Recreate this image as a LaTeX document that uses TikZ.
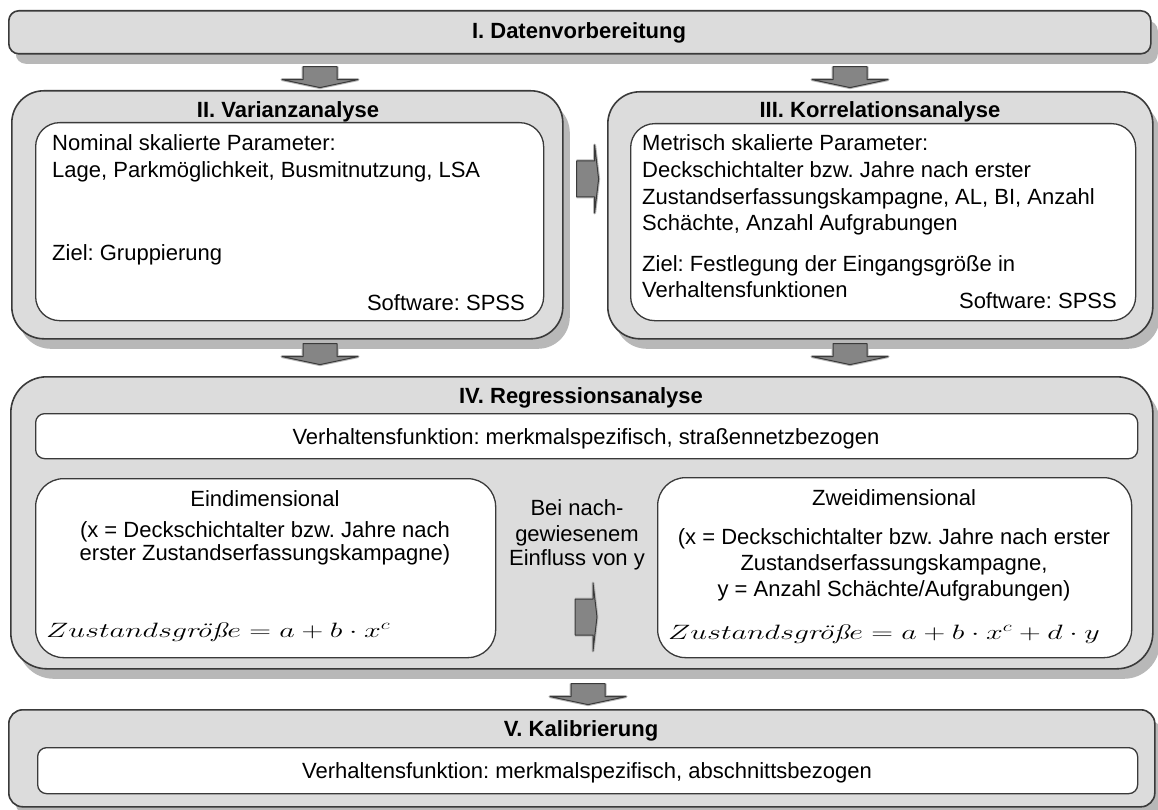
\documentclass[tikz,border=0pt]{standalone}
\usepackage{fontspec}
\usepackage{graphicx}
\usetikzlibrary{shadows}
\newfontfamily\arial{Liberation Sans}
\definecolor{boxgray}{HTML}{DCDCDC}
\definecolor{edge}{HTML}{3A3A3A}
\definecolor{shade}{HTML}{B8B8B8}
\definecolor{arrgray}{HTML}{858585}
\frenchspacing
\newcommand{\grsz}{\mkern-3mu\mbox{\rmfamily\itshape öß}}
\begin{document}
\begin{tikzpicture}[x=1pt,y=-1pt,
 outer/.style={draw=edge, line width=1.6pt, fill=boxgray, anchor=north west, inner sep=0pt,
   drop shadow={shadow xshift=7pt, shadow yshift=-10pt, fill=shade, opacity=1}},
 inner/.style={draw=edge, line width=1.3pt, fill=white, anchor=north west, inner sep=0pt},
 txt/.style={font=\arial\fontsize{22}{26}\selectfont, inner sep=0pt},
 ttl/.style={font=\arial\bfseries\fontsize{22}{26}\selectfont, inner sep=0pt},
 frm/.style={font=\fontsize{21}{24}\selectfont, inner sep=0pt, anchor=base west},
 arrstyle/.style={draw=edge, line width=1pt, fill=arrgray, line join=round},
 glow/.style={draw=shade, line width=3pt, line join=round},
 downarr/.pic={\draw[glow] (-17,0) -- (-17,13) -- (-38,13) -- (0,21) -- (38,13) -- (17,13) -- (17,0);
               \draw[arrstyle] (-17,0) -- (-17,13) -- (-38,13) -- (0,21) -- (38,13) -- (17,13) -- (17,0) -- cycle;},
 rightarr/.pic={\draw[glow] (0,-18) -- (18,-18) -- (18,-34) -- (22,0) -- (18,34) -- (18,18) -- (0,18);
                \draw[arrstyle] (0,-18) -- (18,-18) -- (18,-34) -- (22,0) -- (18,34) -- (18,18) -- (0,18) -- cycle;}
]
\useasboundingbox (0,0) rectangle (1158,810);
\fill[white] (0,0) rectangle (1158,810);

\coordinate (colL) at (320,0);
\coordinate (colR) at (850,0);
\coordinate (colM) at (588,0);

% outer boxes
\node[outer, rounded corners=10pt, minimum width=1142pt, minimum height=43pt] (I) at (8,10) {};
\node[outer, rounded corners=32pt, minimum width=551pt, minimum height=248pt] (II) at (11,90) {};
\node[outer, rounded corners=32pt, minimum width=545pt, minimum height=247pt] (III) at (607,91) {};
\node[outer, rounded corners=36pt, minimum width=1142pt, minimum height=292pt] (IV) at (10,376) {};
\node[outer, rounded corners=14pt, minimum width=1146pt, minimum height=97pt] (V) at (8,709) {};

% inner boxes
\node[inner, rounded corners=24pt, minimum width=508pt, minimum height=198pt] (IIin) at (35,122) {};
\node[inner, rounded corners=24pt, minimum width=505pt, minimum height=197pt] (IIIin) at (630,123) {};
\node[inner, rounded corners=9pt, minimum width=1102pt, minimum height=45pt] (IVin) at (35,413) {};
\node[inner, rounded corners=28pt, minimum width=460pt, minimum height=179pt] (Eind) at (35,478) {};
\node[inner, rounded corners=28pt, minimum width=474pt, minimum height=180pt] (Zwei) at (657,477) {};
\node[inner, rounded corners=9pt, minimum width=1100pt, minimum height=46pt] (Vin) at (37,747) {};

% block arrows between the boxes
\pic at ([yshift=-12pt]I.south -| colL) {downarr};
\pic at ([yshift=-12pt]I.south -| colR) {downarr};
\pic at ([yshift=-4pt]II.south -| colL) {downarr};
\pic at ([yshift=-4pt]III.south -| colR) {downarr};
\pic at ([yshift=-14pt]IV.south -| colM) {downarr};
\pic at ([xshift=13pt]II.east |- 0,179) {rightarr};
\pic at (575,617) {rightarr};

% titles
\node[ttl, anchor=base] (tI) at (579,39) {I. Datenvorbereitung};
\node[ttl, anchor=base] (tII) at (288,118) {II. Varianzanalyse};
\node[ttl, anchor=base] (tIII) at (880,118) {III. Korrelationsanalyse};
\node[ttl, anchor=base] (tIV) at (581,403) {IV. Regressionsanalyse};
\node[ttl, anchor=base] (tV) at (581,736) {V. Kalibrierung};

% box II text
\node[txt, anchor=base west] (a1) at (52,151) {Nominal skalierte Parameter:};
\node[txt, anchor=base west] (a2) at (52,178) {Lage, Parkmöglichkeit, Busmitnutzung, LSA};
\node[txt, anchor=base west] (a3) at (52,260) {Ziel: Gruppierung};
\node[txt, anchor=base east] (a4) at (525,310) {Software: SPSS};

% box III text
\node[txt, anchor=base west] (b1) at (642,151) {Metrisch skalierte Parameter:};
\node[txt, anchor=base west] (b2) at (642,178) {Deckschichtalter bzw. Jahre nach erster};
\node[txt, anchor=base west] (b3) at (642,205) {Zustandserfassungskampagne, AL, BI, Anzahl};
\node[txt, anchor=base west] (b4) at (642,231) {Schächte, Anzahl Aufgrabungen};
\node[txt, anchor=base west] (b5) at (642,271) {Ziel: Festlegung der Eingangsgröße in};
\node[txt, anchor=base west] (b6) at (642,297) {Verhaltensfunktionen};
\node[txt, anchor=base east] (b7) at (1117,308) {Software: SPSS};

% box IV text
\node[txt, anchor=base] (c1) at (586,444) {Verhaltensfunktion: merkmalspezifisch, straßennetzbezogen};
\node[txt, anchor=base] (d1) at (265,506) {Eindimensional};
\node[txt, anchor=base] (d2) at (265,537) {(x = Deckschichtalter bzw. Jahre nach};
\node[txt, anchor=base] (d3) at (265,560) {erster Zustandserfassungskampagne)};
\node[frm] (d4) at (46,637) {\scalebox{1.45}[1]{$Zustandsgr\grsz e = a + b\cdot x^{c}$}};
\node[txt, anchor=base] (e1) at (577,515) {Bei nach-};
\node[txt, anchor=base] (e2) at (577,541) {gewiesenem};
\node[txt, anchor=base] (e3) at (577,565) {Einfluss von y};
\node[txt, anchor=base] (f1) at (894,505) {Zweidimensional};
\node[txt, anchor=base] (f2) at (894,544) {(x = Deckschichtalter bzw. Jahre nach erster};
\node[txt, anchor=base] (f3) at (894,570) {Zustandserfassungskampagne,};
\node[txt, anchor=base] (f4) at (894,596) {y = Anzahl Schächte/Aufgrabungen)};
\node[frm] (f5) at (668,639) {\scalebox{1.45}[1]{$Zustandsgr\grsz e = a + b\cdot x^{c} + d\cdot y$}};

% box V text
\node[txt, anchor=base] (g1) at (587,778) {Verhaltensfunktion: merkmalspezifisch, abschnittsbezogen};
\end{tikzpicture}
\end{document}
